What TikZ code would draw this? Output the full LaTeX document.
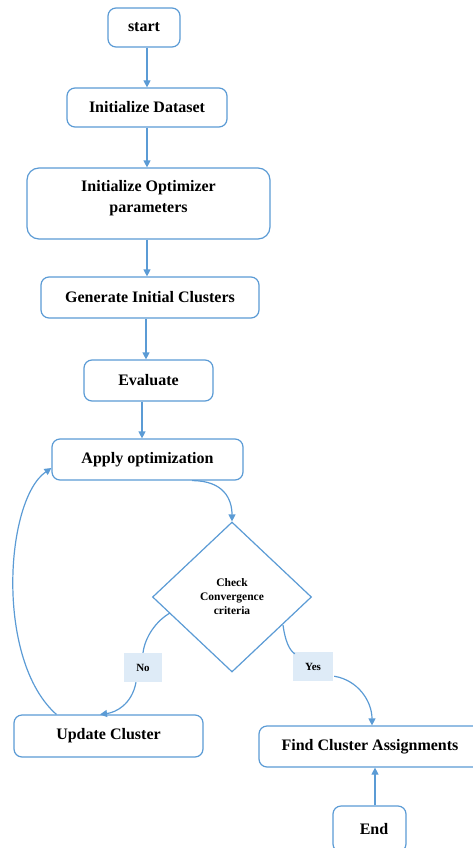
\documentclass[tikz,border=0pt]{standalone}
\usepackage{fontspec}
\setmainfont{Liberation Serif}
\usetikzlibrary{arrows.meta,calc,shapes.geometric}
\definecolor{lineblue}{HTML}{5B9BD5}
\definecolor{labelfill}{HTML}{DEEBF7}
\tikzset{
  box/.style={draw=lineblue, line width=1.2pt, rounded corners=8pt, fill=white, inner sep=0pt, font=\fontsize{16}{19}\selectfont\bfseries, align=center},
  txt/.style={inner sep=0pt, font=\fontsize{16}{21}\selectfont\bfseries, align=center},
  dia/.style={draw=lineblue, line width=1.2pt, diamond, inner sep=0pt, aspect=1.06, fill=white},
  lbl/.style={fill=labelfill, inner sep=0pt, minimum width=38pt, minimum height=29pt, font=\fontsize{11}{13}\selectfont\bfseries},
  arr/.style={draw=lineblue, line width=1.2pt, -{Triangle[width=7pt,length=7pt]}},
  ln/.style={draw=lineblue, line width=1.2pt},
}
\begin{document}
\begin{tikzpicture}[x=1pt,y=-1pt]
\useasboundingbox (0,0) rectangle (473,848);
\begin{scope}
\clip (0,0) rectangle (473,848);
\node[box, minimum width=72pt, minimum height=39pt] (start) at (144,27.5) {start};
\node[box, minimum width=160pt, minimum height=39pt] (dataset) at (147,107.5) {Initialize Dataset};
\node[box, minimum width=243pt, minimum height=71pt, rounded corners=12pt] (opt) at (148.5,203.5) {};
\node[txt] (opttxt) at (148.5,198.5) {Initialize Optimizer\\parameters};
\node[box, minimum width=218pt, minimum height=41pt] (gen) at (150,297.5) {Generate Initial Clusters};
\node[box, minimum width=129pt, minimum height=41pt] (eval) at (148.5,380.5) {Evaluate};
\node[box, minimum width=191pt, minimum height=41pt] (apply) at (147.5,459.5) {Apply optimization};
\node[dia, minimum width=159pt, minimum height=150pt] (check) at (232,597) {};
\node[inner sep=0pt, align=center, font=\fontsize{11.5}{14}\selectfont\bfseries] (checktxt) at (232,597) {Check\\Convergence\\criteria};
\node[box, minimum width=189pt, minimum height=42pt] (update) at (108.5,736) {Update Cluster};
\node[box, minimum width=222pt, minimum height=41pt] (find) at (370,746.5) {Find Cluster Assignments};
\node[box, minimum width=73pt, minimum height=46pt] (end) at (369.5,829) {};
\node[txt] (endtxt) at (374,829) {End};
\node[lbl] (no) at (143,667.5) {No};
\node[lbl, minimum width=40pt] (yes) at (313,666.5) {Yes};

\draw[arr] (start.south -| dataset.north) -- (dataset.north);
\draw[arr] (dataset.south) -- (dataset.south |- opt.north);
\draw[arr] (dataset.south |- opt.south) -- (dataset.south |- gen.north);
\draw[arr] ($(gen.south)+(-4,0)$) -- ($(gen.south |- eval.north)+(-4,0)$);
\draw[arr] ($(eval.south)+(-6.5,0)$) -- ($(eval.south |- apply.north)+(-6.5,0)$);
\draw[arr] ($(apply.south)+(44.5,0)$) .. controls +(32,0) and +(0,-22) .. (check.north);
\draw[ln] (170,613) .. controls (156,621) and (145,637) .. (no.north);
\draw[arr] ($(no.south)+(-7,0)$) .. controls +(-4,22) and +(16,-2) .. ($(update.north)+(-8.5,0)$);
\draw[ln] (283,625) .. controls (285,640) and (289,650) .. ($(yes.north west)+(2,2)$);
\draw[arr] ($(yes.south east)+(1,-5)$) .. controls +(24,4) and +(0,-24) .. ($(find.north)+(2,0)$);
\draw[arr] ($(update.north west)+(43,0)$) .. controls (-5,660) and (5,500) .. ($(apply.west)+(0,8.5)$);
\draw[arr] (end.north -| 375,0) -- (find.south -| 375,0);
\end{scope}
\end{tikzpicture}
\end{document}
